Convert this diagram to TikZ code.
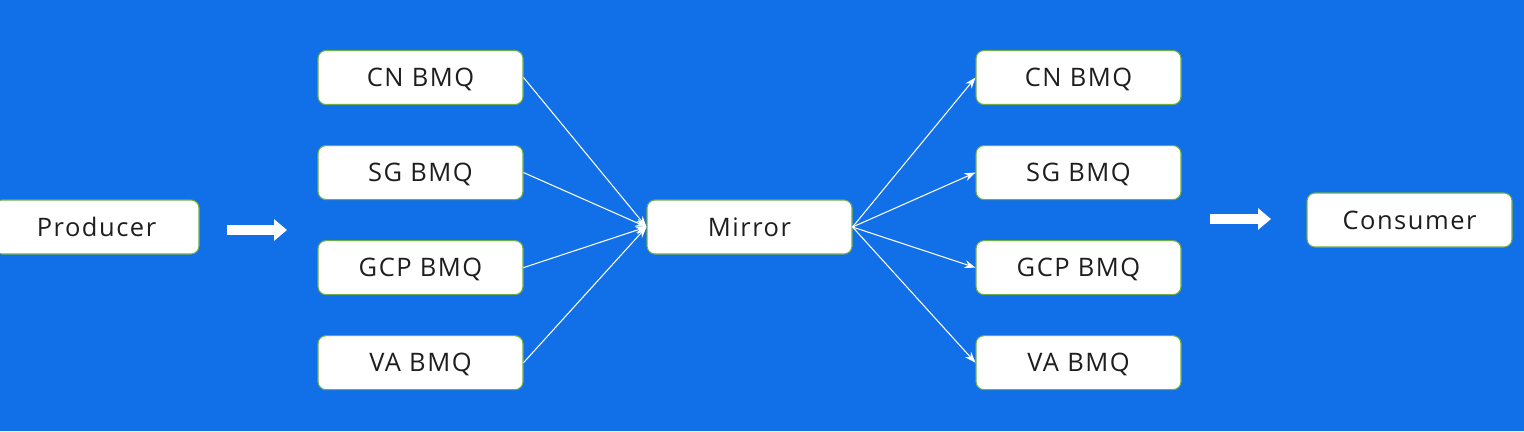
\documentclass[tikz,border=0pt]{standalone}
\usepackage{fontspec}
\setmainfont{Open Sans}[LetterSpace=6]
\usetikzlibrary{positioning,arrows.meta}

\definecolor{bgblue}{RGB}{17,112,232}
\definecolor{boxline}{RGB}{112,173,71}
\definecolor{txt}{RGB}{30,30,30}

\tikzset{
  bmq/.style={draw=boxline, line width=0.6pt, fill=white, rounded corners=0.16cm,
    minimum width=4.1cm, minimum height=1.08cm, text=txt, text depth=0pt,
    font=\fontsize{14.5}{16}\selectfont},
  link/.style={draw=white, line width=0.6pt, -{Stealth[length=0.22cm,width=0.16cm]}},
  bigarrow/.style={draw=white, line width=0.2cm, -{Triangle[length=0.26cm,width=0.42cm]}}
}

\begin{document}
\begin{tikzpicture}
  \fill[bgblue] (0,0) rectangle (30.48,-8.62);
  \useasboundingbox (0,0) rectangle (30.48,-8.62);

  % Define nodes
  \node[bmq]                        (prod)   at (1.93,-4.54)  {Producer};
  \node[bmq]                        (lcn)    at (8.41,-1.55)  {CN BMQ};
  \node[bmq, below=0.80cm of lcn]   (lsg)    {SG BMQ};
  \node[bmq, below=0.80cm of lsg]   (lgcp)   {GCP BMQ};
  \node[bmq, below=0.80cm of lgcp]  (lva)    {VA BMQ};
  \node[bmq]                        (mirror) at (14.99,-4.54) {Mirror};
  \node[bmq]                        (rcn)    at (21.57,-1.55) {CN BMQ};
  \node[bmq, below=0.80cm of rcn]   (rsg)    {SG BMQ};
  \node[bmq, below=0.80cm of rsg]   (rgcp)   {GCP BMQ};
  \node[bmq, below=0.80cm of rgcp]  (rva)    {VA BMQ};
  \node[bmq]                        (cons)   at (28.19,-4.40) {Consumer};

  \coordinate (a1s) at (4.54,-4.60);
  \coordinate (a1e) at (5.74,-4.60);
  \coordinate (a2s) at (24.20,-4.38);
  \coordinate (a2e) at (25.42,-4.38);

  % Connect the nodes
  \foreach \n in {lcn,lsg,lgcp,lva}
    \draw[link] (\n.east) -- (mirror.west);
  \foreach \n in {rcn,rsg,rgcp,rva}
    \draw[link] (mirror.east) -- (\n.west);
  \draw[bigarrow] (a1s) -- (a1e);
  \draw[bigarrow] (a2s) -- (a2e);
\end{tikzpicture}
\end{document}
